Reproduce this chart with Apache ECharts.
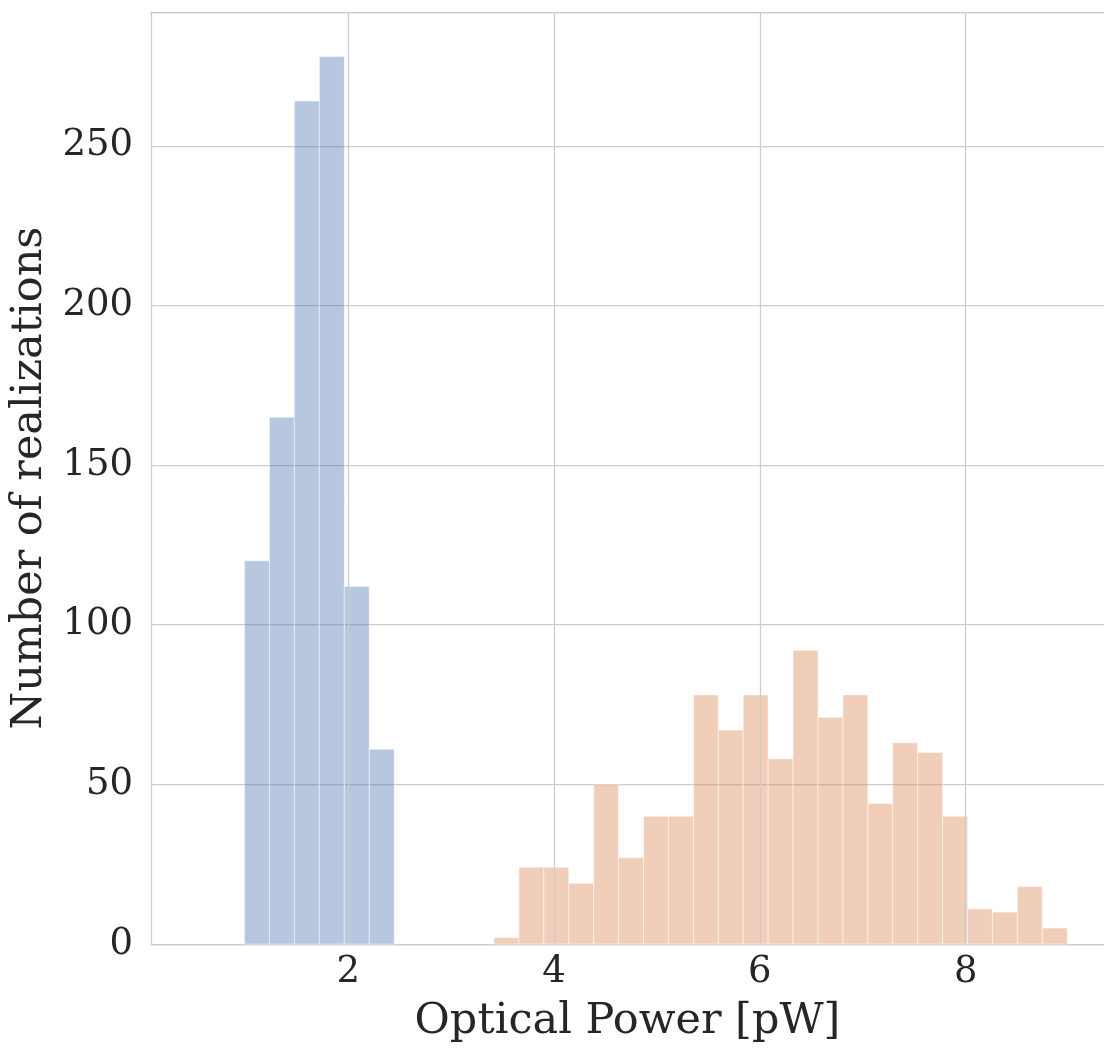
<!DOCTYPE html>
<html>
<head>
<meta charset="utf-8">
<script src="https://cdn.jsdelivr.net/npm/echarts@6/dist/echarts.min.js"></script>
<style>
html,body{margin:0;padding:0;background:#fff;}
#chart{width:1104px;height:1048px;}
</style>
</head>
<body>
<div id="chart"></div>
<script>
// Bin edges (pW)
var blueEdges = [0.991, 1.234, 1.476, 1.719, 1.962, 2.204, 2.447];
var blueCounts = [120, 165, 264, 278, 112, 61];

var orangeEdges = [3.416, 3.658, 3.900, 4.143, 4.385, 4.627, 4.869, 5.111, 5.354, 5.596, 5.838, 6.080,
                   6.322, 6.565, 6.807, 7.049, 7.291, 7.533, 7.776, 8.018, 8.260, 8.502, 8.745, 8.987];
var orangeCounts = [2, 24, 24, 19, 50, 27, 40, 40, 78, 67, 78, 58, 92, 71, 78, 44, 63, 60, 40, 11, 10, 18, 5];

var xTicks = [2, 4, 6, 8];
var yTicks = [0, 50, 100, 150, 200, 250];

var xMin = 0.083, xMax = 9.344;

function toBins(edges, counts) {
  var out = [];
  for (var i = 0; i < counts.length; i++) out.push([edges[i], edges[i + 1], counts[i]]);
  return out;
}

function renderBar(params, api) {
  var p0 = api.coord([api.value(0), api.value(2)]);
  var p1 = api.coord([api.value(1), 0]);
  return {
    type: 'rect',
    shape: { x: p0[0], y: p0[1], width: p1[0] - p0[0], height: p1[1] - p0[1] },
    style: api.style()
  };
}

var font = 'DejaVu Serif';
var gridColor = '#cccccc';
var chart = echarts.init(document.getElementById('chart'), null, { renderer: 'canvas' });
chart.setOption({
  animation: false,
  backgroundColor: '#ffffff',
  grid: { left: 151, right: 0, top: 12, bottom: 100, show: false, containLabel: false },
  xAxis: [
    {
      type: 'value', min: xMin, max: xMax, position: 'bottom',
      axisLine: { show: true, onZero: false, lineStyle: { color: gridColor, width: 1.25 } },
      axisTick: { show: false },
      splitLine: { show: false },
      axisLabel: {
        fontFamily: font, fontSize: 37, color: '#262626', margin: 10,
        customValues: xTicks,
        formatter: function (v) { return String(v); }
      },
      name: 'Optical Power [pW]', nameLocation: 'middle', nameGap: 56,
      nameTextStyle: { fontFamily: font, fontSize: 43, color: '#262626' }
    },
    {
      type: 'value', min: xMin, max: xMax, position: 'top',
      axisLine: { show: true, onZero: false, lineStyle: { color: gridColor, width: 1.25 } },
      axisTick: { show: false }, axisLabel: { show: false }, splitLine: { show: false }
    }
  ],
  yAxis: {
    type: 'value', min: 0, max: 291.9, interval: 50,
    axisLine: { show: true, lineStyle: { color: gridColor, width: 1.25 } },
    axisTick: { show: false },
    splitLine: { show: true, lineStyle: { color: gridColor, width: 1.25 } },
    axisLabel: {
      fontFamily: font, fontSize: 37, color: '#262626', margin: 18,
      formatter: function (v) { return yTicks.indexOf(v) >= 0 ? String(v) : ''; }
    },
    name: 'Number of realizations', nameLocation: 'middle', nameGap: 97, nameRotate: 90,
    nameTextStyle: { fontFamily: font, fontSize: 43, color: '#262626' }
  },
  series: [
    {
      // vertical grid lines at the x tick values, drawn under the bars
      type: 'custom', z: 1, silent: true,
      renderItem: function () { return null; },
      data: [],
      markLine: {
        silent: true, symbol: 'none', label: { show: false },
        lineStyle: { color: gridColor, width: 1.25, type: 'solid' },
        data: xTicks.map(function (t) { return { xAxis: t }; })
      }
    },
    {
      type: 'custom', z: 2, renderItem: renderBar,
      itemStyle: { color: 'rgba(76,114,176,0.4)', borderColor: 'rgba(255,255,255,0.5)', borderWidth: 1 },
      encode: { x: [0, 1], y: 2 },
      data: toBins(blueEdges, blueCounts)
    },
    {
      type: 'custom', z: 2, renderItem: renderBar,
      itemStyle: { color: 'rgba(221,132,82,0.4)', borderColor: 'rgba(255,255,255,0.5)', borderWidth: 1 },
      encode: { x: [0, 1], y: 2 },
      data: toBins(orangeEdges, orangeCounts)
    }
  ]
});
</script>
</body>
</html>
